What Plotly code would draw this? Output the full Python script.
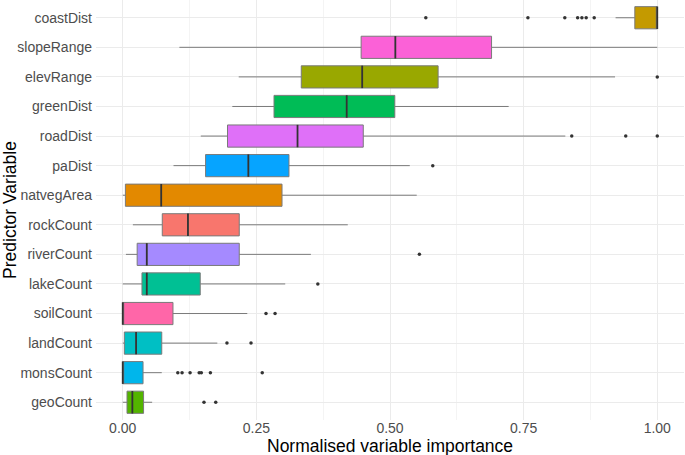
import plotly.graph_objects as go

variables = ["geoCount", "monsCount", "landCount", "soilCount", "lakeCount", "riverCount",
             "rockCount", "natvegArea", "paDist", "roadDist", "greenDist", "elevRange",
             "slopeRange", "coastDist"]
lower_whisker = [0.000, 0.000, 0.000, 0.000, 0.000, 0.006, 0.019, 0.000, 0.095, 0.146, 0.205, 0.217, 0.106, 0.922]
q1_vals       = [0.008, 0.000, 0.003, 0.000, 0.036, 0.027, 0.074, 0.005, 0.155, 0.196, 0.283, 0.334, 0.446, 0.958]
median_vals   = [0.018, 0.000, 0.025, 0.000, 0.045, 0.045, 0.122, 0.072, 0.235, 0.327, 0.419, 0.448, 0.510, 1.000]
q3_vals       = [0.039, 0.038, 0.073, 0.094, 0.145, 0.218, 0.218, 0.298, 0.311, 0.450, 0.509, 0.590, 0.690, 1.000]
upper_whisker = [0.055, 0.073, 0.177, 0.233, 0.304, 0.352, 0.421, 0.550, 0.537, 0.828, 0.722, 0.921, 1.000, 1.000]
outliers = {
    "geoCount": [0.152, 0.174],
    "monsCount": [0.103, 0.111, 0.126, 0.143, 0.147, 0.164, 0.261],
    "landCount": [0.195, 0.240],
    "soilCount": [0.268, 0.285],
    "lakeCount": [0.365],
    "riverCount": [0.555],
    "paDist": [0.580],
    "roadDist": [0.840, 0.941, 1.000],
    "elevRange": [1.000],
    "coastDist": [0.567, 0.758, 0.827, 0.851, 0.859, 0.867, 0.882],
}
fill_colors = ["#53B400", "#00B6EB", "#00BFC4", "#FF66A8", "#00C094", "#A58AFF",
               "#F8766D", "#E38900", "#06A4FF", "#DF70F8", "#00BC56", "#99A800",
               "#FB61D7", "#C49A00"]
x_ticks = [0, 0.25, 0.5, 0.75, 1.0]
x_tick_labels = ["0.00", "0.25", "0.50", "0.75", "1.00"]
x_title = "Normalised variable importance"
y_title = "Predictor Variable"

fig = go.Figure()
for i, v in enumerate(variables):
    fig.add_trace(go.Box(
        y=[v], q1=[q1_vals[i]], median=[median_vals[i]], q3=[q3_vals[i]],
        lowerfence=[lower_whisker[i]], upperfence=[upper_whisker[i]],
        orientation="h", fillcolor=fill_colors[i],
        line=dict(color="#7a7a7a", width=1), whiskerwidth=0, width=0.75,
        boxpoints=False, showlegend=False, hoverinfo="skip",
    ))

# thicker, darker median lines (as in ggplot)
fig.add_trace(go.Scatter(
    x=median_vals, y=variables, mode="markers",
    marker=dict(symbol="line-ns", size=16, line=dict(color="#333333", width=1.8)),
    showlegend=False, hoverinfo="skip"))

ox, oy = [], []
for v, vals in outliers.items():
    for val in vals:
        ox.append(val)
        oy.append(v)
fig.add_trace(go.Scatter(x=ox, y=oy, mode="markers",
                         marker=dict(color="#333333", size=3.5),
                         showlegend=False, hoverinfo="skip"))

fig.update_layout(
    width=685, height=455,
    margin=dict(l=96, r=1, t=0, b=35),
    plot_bgcolor="white", paper_bgcolor="white",
    boxmode="overlay",
    font=dict(family="Liberation Sans, Arial, sans-serif", color="#4D4D4D", size=14),
    annotations=[dict(text=x_title, xref="paper", yref="paper", x=0.5, y=-26 / 420,
                      xanchor="center", yanchor="middle", showarrow=False,
                      font=dict(size=17.5, color="black"))],
)
fig.update_xaxes(
    range=[-0.05, 1.05], tickvals=x_ticks, ticktext=x_tick_labels,
    showgrid=True, gridcolor="#EBEBEB", gridwidth=1, zeroline=False,
    minor=dict(showgrid=True, tick0=0.125, dtick=0.25, gridcolor="#F4F4F4", gridwidth=0.6),
    ticks="", ticklabelstandoff=-2, automargin=False,
    tickfont=dict(size=14, color="#4D4D4D"),
)
fig.update_yaxes(
    type="category", categoryorder="array", categoryarray=variables,
    range=[-0.6, 13.6],
    showgrid=True, gridcolor="#EBEBEB", gridwidth=1, zeroline=False,
    ticks="", ticklabelstandoff=3, automargin=False,
    tickfont=dict(size=14, color="#4D4D4D"),
    title=dict(text=y_title, font=dict(size=17.5, color="black"), standoff=0),
)

fig.write_html("out.html", config={"displayModeBar": False},
               post_script="document.body.style.margin='0';document.body.style.overflow='hidden';")
